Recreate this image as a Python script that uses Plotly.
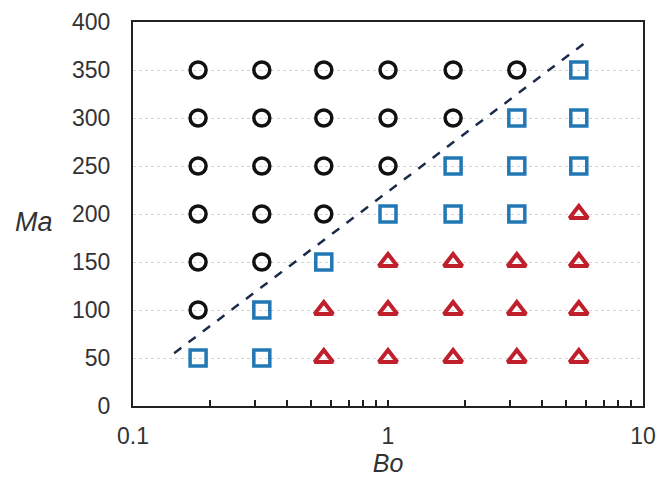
import plotly.graph_objects as go

# Data
circle_bo = [0.18, 0.32, 0.56, 1.0, 1.8, 3.2,
             0.18, 0.32, 0.56, 1.0, 1.8,
             0.18, 0.32, 0.56, 1.0,
             0.18, 0.32, 0.56,
             0.18, 0.32,
             0.18]
circle_ma = [350, 350, 350, 350, 350, 350,
             300, 300, 300, 300, 300,
             250, 250, 250, 250,
             200, 200, 200,
             150, 150,
             100]
square_bo = [5.6, 3.2, 5.6, 1.8, 3.2, 5.6, 1.0, 1.8, 3.2, 0.56, 0.32, 0.18, 0.32]
square_ma = [350, 300, 300, 250, 250, 250, 200, 200, 200, 150, 100, 50, 50]
triangle_bo = [5.6,
               1.0, 1.8, 3.2, 5.6,
               0.56, 1.0, 1.8, 3.2, 5.6,
               0.56, 1.0, 1.8, 3.2, 5.6]
triangle_ma = [200,
               150, 150, 150, 150,
               100, 100, 100, 100, 100,
               50, 50, 50, 50, 50]
line_bo = [0.145, 5.9]
line_ma = [55, 378]

x_tickvals = [0.1, 0.2, 0.3, 0.4, 0.5, 0.6, 0.7, 0.8, 0.9,
              1, 2, 3, 4, 5, 6, 7, 8, 9, 10]
x_ticktext = ["0.1", "", "", "", "", "", "", "", "",
              "1", "", "", "", "", "", "", "", "", "10"]
y_tickvals = [0, 50, 100, 150, 200, 250, 300, 350, 400]

fig = go.Figure()
fig.add_trace(go.Scatter(x=line_bo, y=line_ma, mode="lines",
                         line=dict(color="#1c2b4a", width=2.5, dash="dash"),
                         showlegend=False, hoverinfo="skip"))
fig.add_trace(go.Scatter(x=circle_bo, y=circle_ma, mode="markers",
                         marker=dict(symbol="circle-open", size=16, color="#111111",
                                     line=dict(color="#111111", width=3.5)),
                         showlegend=False))
fig.add_trace(go.Scatter(x=square_bo, y=square_ma, mode="markers",
                         marker=dict(symbol="square-open", size=16, color="#2277b5",
                                     line=dict(color="#2277b5", width=3.5)),
                         showlegend=False))
fig.add_trace(go.Scatter(x=triangle_bo, y=triangle_ma, mode="markers",
                         marker=dict(symbol="triangle-up-open", size=16, color="#c0202c",
                                     line=dict(color="#c0202c", width=4)),
                         showlegend=False))

fig.update_layout(
    width=659, height=480,
    margin=dict(l=133, r=16, t=22, b=74),
    paper_bgcolor="white", plot_bgcolor="white",
    font=dict(family="Liberation Sans, Arial, sans-serif", size=23, color="#333333"),
)
fig.update_xaxes(
    type="log", range=[-1, 1], automargin=False,
    tickvals=x_tickvals, ticktext=x_ticktext,
    ticks="inside", ticklen=6, tickwidth=1.5, tickcolor="#222222",
    showgrid=False, zeroline=False,
    showline=True, linecolor="#222222", linewidth=2, mirror=True,
    ticklabelstandoff=8,
    title=dict(text="<i>Bo</i>", font=dict(size=25, color="#333333"), standoff=4),
)
fig.update_yaxes(
    range=[0, 400], tickvals=y_tickvals, automargin=False,
    ticks="", showgrid=True, gridcolor="#d4d4d4", griddash="dot", gridwidth=1,
    zeroline=False,
    showline=True, linecolor="#222222", linewidth=2, mirror=True,
    ticklabelstandoff=16,
)
fig.add_annotation(text="<i>Ma</i>", xref="paper", yref="paper", x=-0.235, y=0.479,
                   xanchor="left", yanchor="middle", showarrow=False,
                   font=dict(size=27, color="#333333"))

fig.write_html("out.html",
               config={"displayModeBar": False},
               post_script="document.body.style.margin='0';document.body.style.overflow='hidden';")
